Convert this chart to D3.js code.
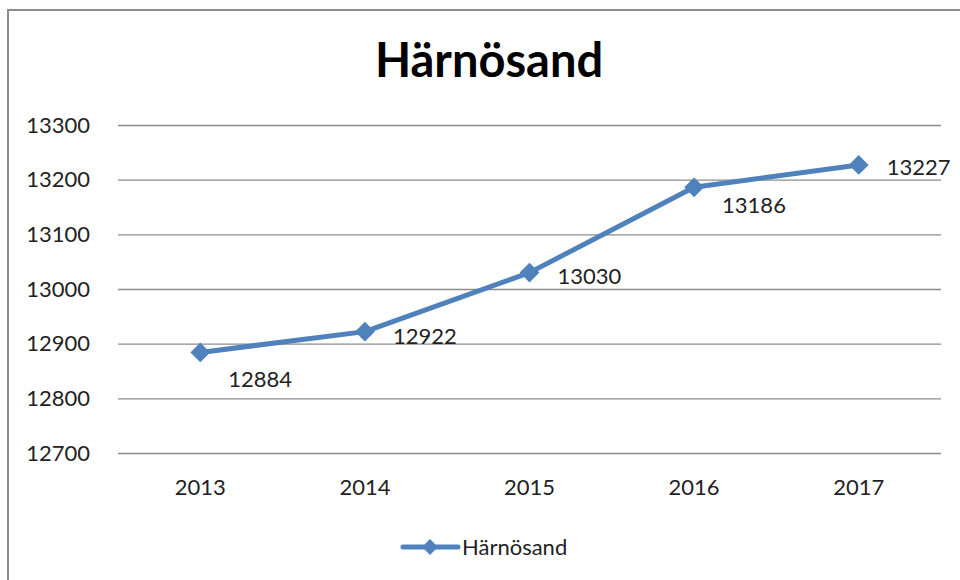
<!DOCTYPE html>
<html><head><meta charset="utf-8">
<script src="https://cdn.jsdelivr.net/npm/d3@7"></script>
<style>body{margin:0;background:#fff}svg{display:block}text{font-family:Lato,"Open Sans",sans-serif}</style>
</head><body><div id="chart"></div>
<script>
const title = "Härnösand";
const seriesName = "Härnösand";
const years = ["2013","2014","2015","2016","2017"];
const values = [12884, 12922, 13030, 13186, 13227];
const yTicks = [12700, 12800, 12900, 13000, 13100, 13200, 13300];
// label vertical nudges (layout only)
const labelDy = [35, 12, 11, 26, 10];

const W = 960, H = 580;
const svg = d3.select("#chart").append("svg").attr("width", W).attr("height", H);
svg.append("rect").attr("x",8).attr("y",10).attr("width",W).attr("height",H)
  .attr("fill","#fff").attr("stroke","#8c8c8c").attr("stroke-width",2);

const x = d3.scaleBand().domain(years).range([118, 941]);
const y = d3.scaleLinear().domain([12700, 13300]).range([453, 125]);

svg.append("text").attr("x", 489).attr("y", 77).attr("text-anchor","middle")
  .attr("font-size", 47).attr("font-weight","bold").attr("fill","#000").text(title);

const ya = svg.append("g").attr("transform","translate(118,0)")
  .call(d3.axisLeft(y).tickValues(yTicks).tickSize(-823).tickPadding(28).tickFormat(d3.format("d")));
ya.select(".domain").remove();
ya.selectAll(".tick line").attr("stroke","#8c8c8c").attr("stroke-width",1.3);
ya.selectAll(".tick text").attr("font-size",22).attr("fill","#222").attr("font-family","Lato");

const xa = svg.append("g").attr("transform","translate(0,453)")
  .call(d3.axisBottom(x).tickSize(0).tickPadding(26));
xa.select(".domain").remove();
xa.selectAll(".tick text").attr("font-size",22).attr("fill","#222").attr("font-family","Lato");

const color = "#4f81bd";
const cx = d => x(d) + x.bandwidth()/2;
const line = d3.line().x((d,i)=>cx(years[i])).y(d=>y(d));
svg.append("path").datum(values).attr("d", line).attr("fill","none")
  .attr("stroke", color).attr("stroke-width",5).attr("stroke-linejoin","round");
const diamond = d3.symbol().type(d3.symbolDiamond2).size(250);
svg.selectAll(".pt").data(values).enter().append("path")
  .attr("transform",(d,i)=>`translate(${cx(years[i])},${y(d)})`)
  .attr("d", diamond).attr("fill", color);
svg.selectAll(".lbl").data(values).enter().append("text")
  .attr("x",(d,i)=>cx(years[i])+28).attr("y",(d,i)=>y(d)+labelDy[i])
  .attr("font-size",22).attr("fill","#222").text(d=>d);

// legend
const lg = svg.append("g");
lg.append("line").attr("x1",403).attr("x2",458).attr("y1",547).attr("y2",547)
  .attr("stroke",color).attr("stroke-width",5).attr("stroke-linecap","round");
lg.append("path").attr("transform","translate(430,547)")
  .attr("d", d3.symbol().type(d3.symbolDiamond2).size(160)).attr("fill",color);
lg.append("text").attr("x",462).attr("y",555).attr("font-size",22).attr("fill","#222").text(seriesName);
</script></body></html>
